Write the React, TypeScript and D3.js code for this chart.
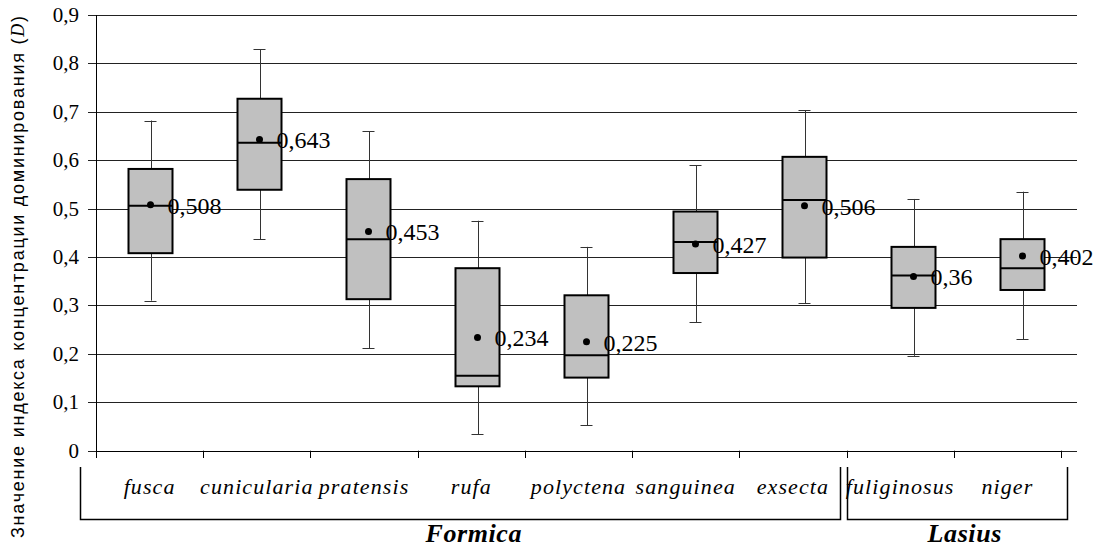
import React from 'react';
import * as d3 from 'd3';

const categories = ['fusca', 'cunicularia', 'pratensis', 'rufa', 'polyctena', 'sanguinea', 'exsecta', 'fuliginosus', 'niger'];
const whiskerLow = [0.31, 0.437, 0.212, 0.034, 0.053, 0.265, 0.305, 0.196, 0.23];
const q1 = [0.408, 0.539, 0.313, 0.133, 0.151, 0.367, 0.399, 0.295, 0.332];
const median = [0.506, 0.636, 0.437, 0.155, 0.197, 0.431, 0.518, 0.362, 0.377];
const q3 = [0.582, 0.727, 0.561, 0.377, 0.321, 0.494, 0.607, 0.421, 0.437];
const whiskerHigh = [0.682, 0.829, 0.66, 0.475, 0.421, 0.59, 0.703, 0.52, 0.535];
const means = [0.508, 0.643, 0.453, 0.234, 0.225, 0.427, 0.506, 0.36, 0.402];
const yTicks = [0, 0.1, 0.2, 0.3, 0.4, 0.5, 0.6, 0.7, 0.8, 0.9];
const genera = [
  { name: 'Formica', from: 'fusca', to: 'exsecta' },
  { name: 'Lasius', from: 'fuliginosus', to: 'niger' },
];

const W = 1099;
const H = 547;
const left = 96;
const top = 15;
const bottom = 450.7;

const fmt = (v: number) => String(v).replace('.', ',');

export default function App() {
  const y = d3.scaleLinear().domain([0, 0.9]).range([bottom, top]);
  // boxes sit on a slightly wider band than the axis ticks (as in the original)
  const xBox = d3.scaleBand().domain(categories).range([left, 1077]);
  const xAxis = d3.scaleBand().domain(categories).range([left, 1061]);
  const bw = 44;
  const serif = { fontFamily: "'Liberation Serif', 'Times New Roman', Times, serif" };
  const crisp = (v: number) => Math.round(v) + 0.5;

  return (
    <svg width={W} height={H} style={{ position: 'absolute', left: 0, top: 0, background: '#fff' }}>
      {/* gridlines + y ticks */}
      {yTicks.map((t) => (
        <g key={t}>
          <line x1={88} x2={1077} y1={crisp(y(t))} y2={crisp(y(t))} stroke="#222" strokeWidth={1} />
          <text x={79} y={y(t) + 7} textAnchor="end" style={serif} fontSize={21} fill="#000">
            {fmt(t)}
          </text>
        </g>
      ))}
      <line x1={crisp(left)} x2={crisp(left)} y1={top} y2={458} stroke="#000" strokeWidth={1} />
      <line x1={left} x2={1061} y1={crisp(y(0))} y2={crisp(y(0))} stroke="#000" strokeWidth={1} />
      {categories.map((c) => (
        <line key={c} x1={crisp(xAxis(c)! + xAxis.bandwidth())} x2={crisp(xAxis(c)! + xAxis.bandwidth())} y1={y(0)} y2={458} stroke="#000" strokeWidth={1} />
      ))}

      {/* boxes */}
      {categories.map((c, i) => {
        const cx = xBox(c)! + xBox.bandwidth() / 2;
        return (
          <g key={c}>
            <line x1={crisp(cx)} x2={crisp(cx)} y1={y(whiskerHigh[i])} y2={y(whiskerLow[i])} stroke="#333" strokeWidth={1} />
            <line x1={cx - 6} x2={cx + 6} y1={crisp(y(whiskerHigh[i]))} y2={crisp(y(whiskerHigh[i]))} stroke="#333" strokeWidth={1} />
            <line x1={cx - 6} x2={cx + 6} y1={crisp(y(whiskerLow[i]))} y2={crisp(y(whiskerLow[i]))} stroke="#333" strokeWidth={1} />
            <rect x={cx - bw / 2} y={y(q3[i])} width={bw} height={y(q1[i]) - y(q3[i])} fill="#c0c0c0" stroke="#000" strokeWidth={2} />
            <line x1={cx - bw / 2} x2={cx + bw / 2} y1={y(median[i])} y2={y(median[i])} stroke="#000" strokeWidth={2} />
            <circle cx={cx} cy={y(means[i])} r={3.5} fill="#000" />
            <text x={cx + 17} y={y(means[i]) + 9} style={serif} fontSize={24} fill="#000">
              {fmt(means[i])}
            </text>
          </g>
        );
      })}

      {/* category labels */}
      {categories.map((c) => (
        <text key={c} x={xAxis(c)! + xAxis.bandwidth() / 2} y={494} textAnchor="middle" style={serif} fontStyle="italic" fontSize={22} letterSpacing={1.1} fill="#000">
          {c}
        </text>
      ))}

      {/* genus brackets */}
      {genera.map((g, gi) => {
        const x0 = gi === 0 ? xAxis(g.from)! - 16 : xAxis(g.from)!;
        const x1 = gi === 0 ? xAxis(g.to)! + xAxis.bandwidth() - 7 : xAxis(g.to)! + xAxis.bandwidth() + 6;
        return (
          <g key={g.name}>
            <path d={`M${crisp(x0)},467V${crisp(519)}H${crisp(x1)}V467`} fill="none" stroke="#000" strokeWidth={1.5} />
            <text x={(x0 + x1) / 2 + (gi === 0 ? 14 : 8)} y={542} textAnchor="middle" style={serif} fontStyle="italic" fontWeight="bold" fontSize={26} letterSpacing={0.6} fill="#000">
              {g.name}
            </text>
          </g>
        );
      })}

      {/* y axis title */}
      <text transform="translate(24,277) rotate(-90)" textAnchor="middle" style={{ fontFamily: "'Liberation Sans', Arial, sans-serif" }} fontSize={18} textLength={522} lengthAdjust="spacing" fill="#000">
        Значение индекса концентрации доминирования (<tspan style={serif} fontStyle="italic">D</tspan>)
      </text>
    </svg>
  );
}
